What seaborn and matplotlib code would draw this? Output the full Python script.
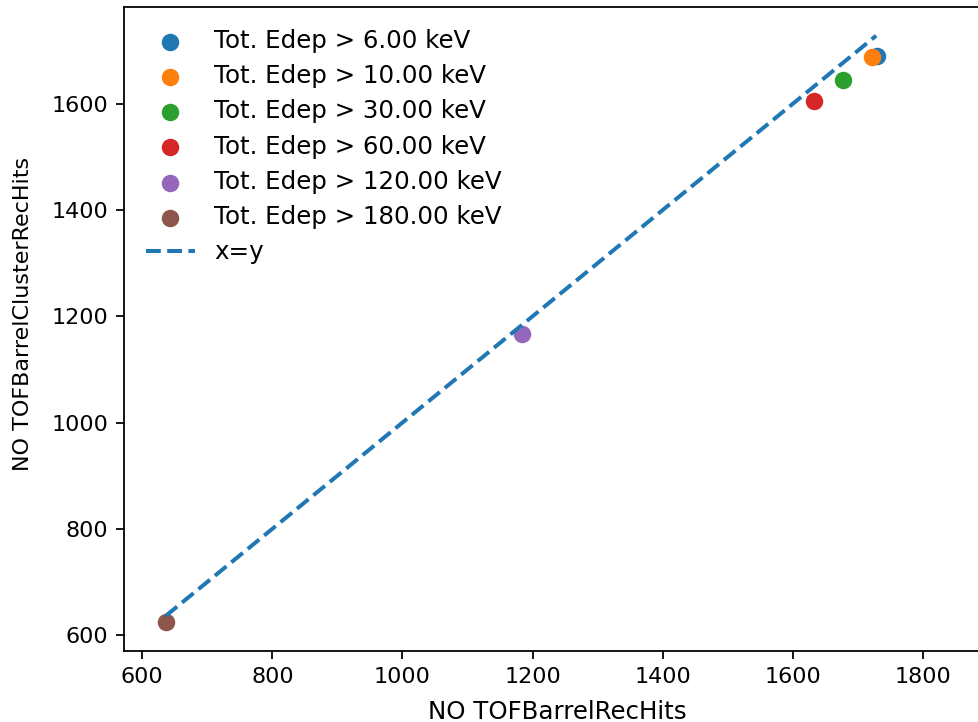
import matplotlib
matplotlib.use("Agg")
import matplotlib.pyplot as plt
import seaborn as sns

# values
thresholds = ["6.00", "10.00", "30.00", "60.00", "120.00", "180.00"]
rec_hits = [1730, 1721, 1677, 1633, 1184, 637]
cluster_hits = [1689, 1688, 1645, 1606, 1167, 624]
line_x = [636, 1728]
colors = sns.color_palette("tab10", len(thresholds))

fig = plt.figure(figsize=(978 / 160, 722 / 160), dpi=160)
ax = fig.add_axes([0.1268, 0.0983, 0.8855, 0.892])

for i, thr in enumerate(thresholds):
    sns.scatterplot(x=[rec_hits[i]], y=[cluster_hits[i]], color=colors[i],
                    s=62, linewidth=0, label=f"Tot. Edep > {thr} keV", ax=ax)

sns.lineplot(x=line_x, y=line_x, linestyle="--", color=colors[0],
             linewidth=1.8, label="x=y", ax=ax)

ax.set_xlim(572, 1903)
ax.set_ylim(570, 1782)
ax.set_xticks([600, 800, 1000, 1200, 1400, 1600, 1800])
ax.set_yticks([600, 800, 1000, 1200, 1400, 1600])
ax.set_xlabel("NO TOFBarrelRecHits", fontsize=11, labelpad=6)
ax.set_ylabel("NO TOFBarrelClusterRecHits", fontsize=10)
ax.yaxis.set_label_coords(-0.105, 0.523)
ax.legend(loc="upper left", frameon=False, fontsize=11, labelspacing=0.46)

fig.savefig("out.png", dpi=160)
